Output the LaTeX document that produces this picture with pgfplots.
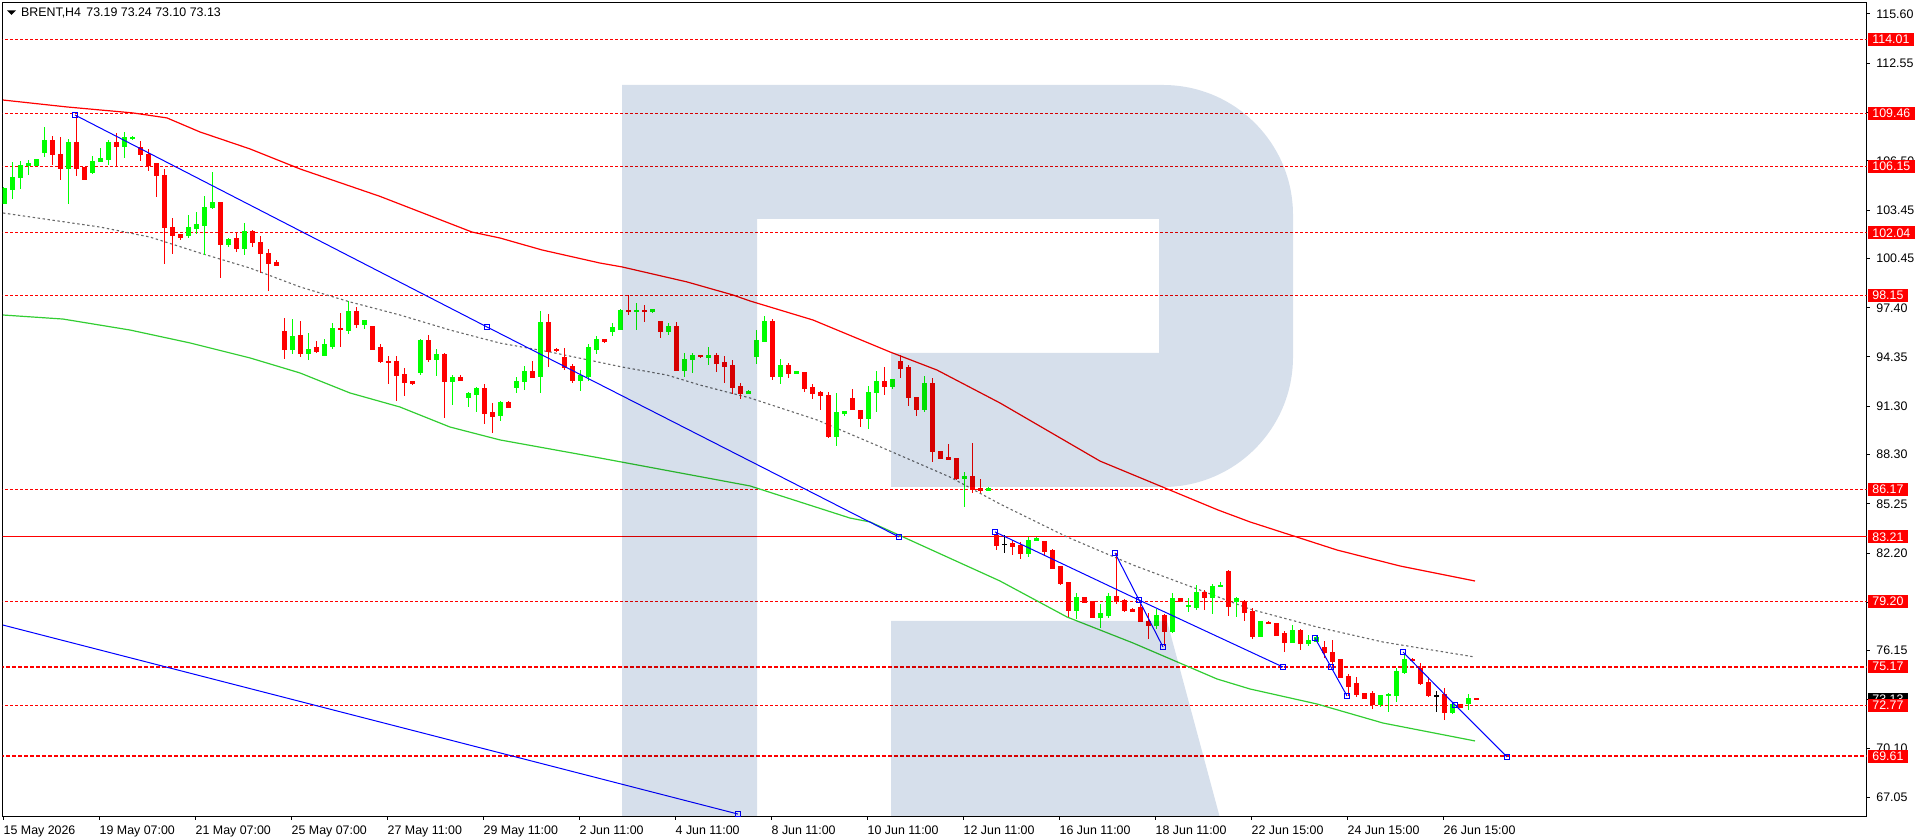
\documentclass[border=0pt]{standalone}
\usepackage{pgfplots}
\pgfplotsset{compat=1.18}
\usepackage{pgfplotstable}
\usepackage{fontspec}
\setmainfont{Liberation Sans}
\definecolor{cup}{RGB}{0,255,0}
\definecolor{cdn}{RGB}{255,0,0}
\definecolor{magreen}{RGB}{50,205,50}
\definecolor{magray}{RGB}{105,105,105}
\definecolor{rlogo}{RGB}{214,223,235}
\newcommand\lf{\fontsize{6.2}{7.4}\selectfont}

\pgfplotstableread{
i o h l c
0 103.85 104.88 103.85 104.76
1 104.72 106.43 104.14 105.50
2 105.46 106.49 104.76 106.24
3 106.20 106.55 105.62 106.33
4 106.24 106.57 106.24 106.57
5 107.01 108.62 106.76 107.79
8 106.02 107.88 103.85 107.67
11 105.75 106.80 105.71 106.49
12 106.45 107.30 106.45 106.62
13 106.57 107.79 106.24 107.63
15 107.38 108.31 106.68 107.92
16 107.90 108.04 107.79 107.92
23 101.87 103.12 101.74 102.36
24 102.28 103.33 101.99 102.53
25 102.49 104.30 100.65 103.64
26 103.64 105.81 103.50 103.95
28 101.35 101.72 101.18 101.60
30 101.10 102.65 100.69 102.15
36 94.80 96.70 94.53 95.65
38 94.56 95.84 94.16 94.84
40 94.47 95.46 94.47 95.15
41 94.97 96.45 94.84 96.14
43 96.02 97.82 95.77 97.14
45 96.39 96.64 96.08 96.58
52 93.42 95.46 93.23 95.40
54 94.22 94.84 93.17 94.53
56 92.86 93.23 91.37 93.05
58 91.87 92.18 91.25 92.06
59 92.00 92.49 90.94 92.37
62 90.71 91.60 90.40 91.56
64 92.49 93.11 92.12 92.86
65 92.80 93.79 92.31 93.48
67 93.11 97.20 92.12 96.46
72 92.92 93.54 92.24 93.23
73 93.17 95.15 92.86 94.91
74 94.84 95.65 94.53 95.46
76 95.96 96.46 95.65 96.15
77 96.08 97.32 96.08 97.20
79 97.18 97.69 96.02 97.22
81 97.14 97.32 97.08 97.32
83 95.96 96.46 95.71 96.27
85 93.54 94.60 93.11 94.22
86 94.22 94.60 93.36 94.47
88 94.29 94.97 93.85 94.47
93 92.06 92.31 92.06 92.24
94 94.37 96.02 93.93 95.34
95 95.30 96.90 95.30 96.54
97 93.13 94.22 92.70 93.85
99 93.32 93.48 93.32 93.48
104 89.41 92.12 88.85 90.88
105 90.86 91.00 90.69 91.00
108 90.53 92.55 89.91 92.18
109 92.14 93.48 90.96 92.86
111 92.51 92.98 92.37 92.98
115 91.08 93.17 90.96 92.68
120 86.81 87.22 85.07 86.97
123 86.07 86.29 86.07 86.23
128 82.16 83.18 81.98 83.01
129 82.97 83.18 82.97 83.13
134 78.63 79.73 78.14 79.42
137 78.24 79.05 77.56 78.43
138 78.36 79.73 78.18 79.48
144 77.74 78.74 77.50 78.36
146 77.37 79.73 77.25 79.36
148 78.89 79.42 78.55 78.93
149 78.86 80.22 78.67 79.73
151 79.42 80.28 78.43 80.16
152 80.10 80.41 80.10 80.22
154 79.17 79.48 78.24 79.36
157 77.06 77.99 77.00 77.93
161 76.69 77.74 76.69 77.43
163 76.57 77.12 76.44 76.81
164 76.75 77.06 76.75 76.94
172 72.79 73.35 72.66 73.35
173 73.35 73.53 72.35 73.41
174 73.35 75.08 72.97 74.89
175 74.83 75.89 74.71 75.58
181 72.35 72.79 72.25 72.79
183 72.91 73.47 72.48 73.22
}\upT

\pgfplotstableread{
i o h l c
6 107.79 108.04 106.27 106.88
7 106.92 107.98 105.33 106.02
9 107.67 109.34 105.58 106.02
10 106.06 106.06 105.33 105.33
14 107.63 108.23 106.16 107.38
17 107.34 107.75 106.51 106.88
18 106.92 107.21 105.87 106.24
19 106.33 106.37 104.26 105.58
20 105.62 106.00 100.13 102.36
21 102.40 102.96 100.73 101.87
22 101.91 101.91 101.62 101.74
27 103.95 103.95 99.26 101.35
29 101.72 102.07 100.85 101.10
31 102.15 102.20 101.18 101.43
32 101.47 101.84 99.53 100.75
33 100.79 101.04 98.46 100.17
34 100.23 100.36 100.01 100.01
35 95.90 96.76 94.24 94.80
37 95.65 96.58 94.33 94.56
39 94.91 95.34 94.59 94.72
42 96.10 97.07 94.97 96.08
44 97.14 97.45 96.14 96.39
46 96.27 96.27 94.78 94.84
47 94.91 95.15 93.98 94.04
48 94.10 94.41 92.68 93.98
49 94.04 94.41 91.62 93.23
50 93.29 93.67 91.93 92.74
51 92.80 92.80 92.61 92.68
53 95.40 95.71 94.04 94.22
55 94.53 94.60 90.57 92.86
57 93.05 93.23 92.92 92.92
60 92.37 92.68 90.20 90.82
61 90.88 91.50 89.64 90.69
63 91.56 91.64 91.21 91.21
66 93.48 94.10 93.05 93.11
68 96.46 97.01 93.73 94.72
69 94.80 94.91 94.66 94.76
70 94.29 94.91 93.54 93.67
71 93.73 93.92 92.74 92.92
75 95.46 95.46 95.22 95.28
78 97.22 98.19 96.95 97.18
80 97.22 97.57 96.52 97.18
82 96.52 96.52 95.53 95.96
84 96.27 96.52 93.48 93.54
87 94.47 94.47 94.29 94.35
89 94.47 94.60 93.42 93.92
90 93.98 94.41 92.74 93.79
91 93.85 94.16 92.06 92.49
92 92.55 92.74 91.75 92.06
96 96.54 96.70 92.92 93.13
98 93.85 93.98 93.07 93.32
100 93.36 93.36 92.20 92.39
101 92.43 92.68 91.77 92.08
102 92.12 92.24 91.08 91.95
103 91.99 92.18 89.35 89.41
106 91.75 92.37 91.06 91.08
107 91.06 91.06 90.03 90.53
110 92.86 93.73 92.02 92.51
112 94.04 94.47 93.07 93.63
113 93.67 93.85 91.33 91.83
114 91.87 91.87 90.71 91.08
116 92.68 93.05 87.86 88.48
117 88.52 88.52 88.05 88.05
118 88.11 88.96 87.99 87.99
119 88.03 88.11 86.73 86.81
121 86.97 89.02 85.92 86.17
122 86.23 86.79 85.92 86.07
124 83.26 83.49 82.39 82.70
126 82.78 83.00 82.06 82.60
127 82.66 82.91 81.85 82.16
130 82.93 82.93 82.10 82.27
131 82.35 82.47 81.23 81.23
132 81.34 81.34 80.24 80.30
133 80.37 80.37 78.22 78.63
135 79.42 79.48 79.11 79.17
136 79.23 79.23 78.24 78.24
139 79.48 82.18 79.05 79.23
140 79.29 79.36 78.55 78.67
141 78.73 78.80 78.55 78.61
142 78.80 79.05 77.93 77.93
143 77.99 78.49 76.88 77.74
145 78.36 78.43 76.44 77.37
147 79.36 79.42 79.17 79.17
150 79.73 79.91 78.67 79.42
153 81.03 81.15 78.30 78.92
155 79.17 79.29 77.99 78.49
156 78.55 78.80 76.88 77.06
158 77.89 77.99 77.81 77.85
159 77.81 77.87 77.06 77.12
160 77.19 77.37 76.07 76.69
162 77.43 77.50 76.19 76.57
165 76.32 76.75 75.70 76.07
166 76.07 76.81 75.14 75.51
167 75.58 75.64 74.52 74.52
168 74.58 74.71 73.35 73.96
169 74.09 74.52 73.28 73.41
170 73.53 73.53 73.22 73.22
171 73.47 73.66 72.54 72.79
176 75.60 75.70 75.45 75.56
177 75.02 75.39 74.03 74.15
178 74.21 74.52 73.28 73.35
180 73.41 73.84 71.86 72.35
182 72.79 72.79 72.62 72.62
184 73.19 73.24 73.10 73.13
}\dnT

\pgfplotstableread{
i o h l c
125 82.74 83.34 82.18 82.74
179 73.37 73.67 72.35 73.37
}\djT

\pgfplotsset{
  wick/.style={draw=none, no markers, forget plot,
    error bars/.cd, y dir=both, y explicit, error mark=none,
    error bar style={draw=#1, solid, line width=0.5pt}},
  body/.style={draw=none, no markers, forget plot,
    error bars/.cd, y dir=both, y explicit, error mark=none,
    error bar style={draw=#1, solid, line width=2.5pt}},
}

\begin{document}
\begin{tikzpicture}
\useasboundingbox (0,0) rectangle (958pt,420pt);
\begin{axis}[
  at={(1.35pt,11.65pt)}, anchor=south west,
  scale only axis, width=932pt, height=407pt,
  xmin=2.7, xmax=1866.7, ymin=65.867, ymax=116.30,
  axis line style={line width=0.5pt, black},
  tick align=outside, major tick length=1.5pt,
  xtick pos=left, ytick pos=right, yticklabel pos=right,
  tick style={black, line width=0.5pt},
  xtick={3.3,99.3,195.3,291.3,387.3,483.3,579.3,675.3,771.3,867.3,963.3,1059.3,1155.3,1251.3,1347.3,1443.3},
  xticklabels={15 May 2026,19 May 07:00,21 May 07:00,25 May 07:00,27 May 11:00,29 May 11:00,2 Jun 11:00,4 Jun 11:00,8 Jun 11:00,10 Jun 11:00,12 Jun 11:00,16 Jun 11:00,18 Jun 11:00,22 Jun 15:00,24 Jun 15:00,26 Jun 15:00},
  ytick={115.60,112.55,109.50,106.50,103.45,100.45,97.40,94.35,91.30,88.30,85.25,82.20,79.15,76.15,73.10,70.10,67.05},
  yticklabels={115.60,112.55,109.50,106.50,103.45,100.45,97.40,94.35,91.30,88.30,85.25,82.20,79.15,76.15,73.10,70.10,67.05},
  tick label style={font=\lf, text=black},
  xticklabel style={anchor=base west, inner sep=0pt, yshift=-7.5pt},
  yticklabel style={anchor=west, inner sep=0pt, xshift=3.15pt},
]
% horizontal levels
\addplot[cdn, line width=0.5pt, dash pattern=on 1.5pt off 1pt] coordinates {(0,114.01) (1870,114.01)};
\addplot[cdn, line width=0.5pt, dash pattern=on 1.5pt off 1pt] coordinates {(0,109.46) (1870,109.46)};
\addplot[cdn, line width=0.5pt, dash pattern=on 1.5pt off 1pt] coordinates {(0,106.15) (1870,106.15)};
\addplot[cdn, line width=0.5pt, dash pattern=on 1.5pt off 1pt] coordinates {(0,102.04) (1870,102.04)};
\addplot[cdn, line width=0.5pt, dash pattern=on 1.5pt off 1pt] coordinates {(0,98.15) (1870,98.15)};
\addplot[cdn, line width=0.5pt, dash pattern=on 1.5pt off 1pt] coordinates {(0,86.17) (1870,86.17)};
\addplot[cdn, line width=0.5pt] coordinates {(0,83.21) (1870,83.21)};
\addplot[cdn, line width=0.5pt, dash pattern=on 1.5pt off 1pt] coordinates {(0,79.20) (1870,79.20)};
\addplot[cdn, line width=1pt, dash pattern=on 2pt off 1pt] coordinates {(0,75.17) (1870,75.17)};
\addplot[cdn, line width=0.5pt, dash pattern=on 1.5pt off 1pt] coordinates {(0,72.77) (1870,72.77)};
\addplot[cdn, line width=1pt, dash pattern=on 2pt off 1pt] coordinates {(0,69.61) (1870,69.61)};
% moving averages
\addplot[cdn, line width=0.6pt] coordinates {(3,110.27) (67,109.84) (133,109.47) (167,109.16) (200,108.29) (250,107.24) (300,106.00) (380,104.30) (472,102.09) (500,101.72) (542,100.98) (600,100.17) (622,99.93) (687,99.00) (733,98.19) (750,97.82) (813,96.64) (890,94.66) (937,93.54) (1000,91.50) (1100,87.90) (1218,84.87) (1250,84.13) (1337,82.39) (1400,81.40) (1475,80.47)};
\addplot[magreen, line width=0.6pt] coordinates {(3,96.95) (63,96.70) (130,96.02) (190,95.22) (250,94.29) (300,93.36) (350,92.12) (400,91.25) (450,90.01) (500,89.21) (600,88.09) (750,86.36) (850,84.37) (870,84.13) (1000,80.47) (1067,78.24) (1133,76.63) (1217,74.40) (1250,73.78) (1317,72.85) (1383,71.67) (1475,70.56)};
\addplot[magray, line width=0.55pt, dash pattern=on 1.2pt off 1.3pt] coordinates {(3,103.27) (100,102.40) (150,101.78) (200,100.79) (250,99.86) (300,98.69) (350,97.76) (400,96.95) (450,96.02) (500,95.21) (550,94.66) (622,93.73) (667,93.23) (700,92.61) (750,91.81) (817,90.45) (883,88.71) (950,86.91) (1000,85.24) (1067,83.20) (1133,81.46) (1200,79.91) (1250,78.73) (1317,77.62) (1383,76.69) (1475,75.76)};
% candles
\addplot[wick=cup] table[x expr=4+8*\thisrow{i}, y expr=(\thisrow{h}+\thisrow{l})/2, y error expr=(\thisrow{h}-\thisrow{l})/2] {\upT};
\addplot[body=cup] table[x expr=4+8*\thisrow{i}, y expr=(\thisrow{o}+\thisrow{c})/2, y error expr=abs(\thisrow{c}-\thisrow{o})/2+0.031] {\upT};
\addplot[wick=cdn] table[x expr=4+8*\thisrow{i}, y expr=(\thisrow{h}+\thisrow{l})/2, y error expr=(\thisrow{h}-\thisrow{l})/2] {\dnT};
\addplot[body=cdn] table[x expr=4+8*\thisrow{i}, y expr=(\thisrow{o}+\thisrow{c})/2, y error expr=abs(\thisrow{c}-\thisrow{o})/2+0.031] {\dnT};
\addplot[wick=black] table[x expr=4+8*\thisrow{i}, y expr=(\thisrow{h}+\thisrow{l})/2, y error expr=(\thisrow{h}-\thisrow{l})/2] {\djT};
\addplot[body=black] table[x expr=4+8*\thisrow{i}, y expr=(\thisrow{o}+\thisrow{c})/2, y error expr=abs(\thisrow{c}-\thisrow{o})/2+0.031] {\djT};
% blue trend lines
\pgfplotsset{bl/.style={blue, line width=0.5pt, mark=square, mark size=1.2pt, mark options={fill=white, solid, line width=0.5pt}}}
\addplot[bl] coordinates {(75,109.34) (487,96.21) (899,83.20)};
\addplot[bl] coordinates {(995,83.51) (1139,79.29) (1283,75.14)};
\addplot[bl] coordinates {(1115,82.21) (1139,79.29) (1163,76.38)};
\addplot[bl] coordinates {(1315,76.94) (1331,75.14) (1347,73.35)};
\addplot[bl] coordinates {(1403,76.07) (1455,72.79) (1507,69.57)};
\addplot[bl, mark indices={2}] coordinates {(3,77.74) (738,66.03)};
% label anchors
\coordinate (L1) at (axis cs:1867.5,114.01);
\coordinate (L2) at (axis cs:1867.5,109.46);
\coordinate (L3) at (axis cs:1867.5,106.15);
\coordinate (L4) at (axis cs:1867.5,102.04);
\coordinate (L5) at (axis cs:1867.5,98.15);
\coordinate (L6) at (axis cs:1867.5,86.17);
\coordinate (L7) at (axis cs:1867.5,83.21);
\coordinate (L8) at (axis cs:1867.5,79.20);
\coordinate (L9) at (axis cs:1867.5,75.17);
\coordinate (LB) at (axis cs:1867.5,73.13);
\coordinate (L10) at (axis cs:1867.5,72.77);
\coordinate (L11) at (axis cs:1867.5,69.61);
\end{axis}
% watermark R (multiply blend)
\begin{scope}[x=1pt, y=1pt, blend mode=multiply]
\clip (1.35,11.65) rectangle (933.35,418.65);
\fill[rlogo] (311,377.5) -- (581.5,377.5) arc[start angle=90, end angle=0, radius=65pt] -- (646.5,241.5) arc[start angle=0, end angle=-90, radius=65pt] -- (445.5,176.5) -- (445.5,243.5) -- (579.5,243.5) -- (579.5,310.5) -- (378.5,310.5) -- (378.5,11) -- (311,11) -- cycle;
\fill[rlogo] (445.5,109.5) -- (583.5,109.5) -- (610,11) -- (445.5,11) -- cycle;
\end{scope}
% price labels
\tikzset{pl/.style={fill=#1, text=white, font=\lf, inner xsep=2.25pt, inner ysep=0pt, minimum height=6.5pt, text depth=0pt, anchor=west}}
\node[pl=cdn] at (L1) {114.01};
\node[pl=cdn] at (L2) {109.46};
\node[pl=cdn] at (L3) {106.15};
\node[pl=cdn] at (L4) {102.04};
\node[pl=cdn] at (L5) {98.15};
\node[pl=cdn] at (L6) {86.17};
\node[pl=cdn] at (L7) {83.21};
\node[pl=cdn] at (L8) {79.20};
\node[pl=cdn] at (L9) {75.17};
\node[pl=black] at (LB) {73.13};
\node[pl=cdn] at (L10) {72.77};
\node[pl=cdn] at (L11) {69.61};
% title
\fill[black] (3.5pt,414.8pt) -- (8pt,414.8pt) -- (5.75pt,412.5pt) -- cycle;
\node[anchor=base west, inner sep=0pt, font=\lf] at (10.35pt,411.65pt) {BRENT,H4};
\node[anchor=base west, inner sep=0pt, font=\lf] at (43pt,411.65pt) {73.19 73.24 73.10 73.13};
\end{tikzpicture}
\end{document}
